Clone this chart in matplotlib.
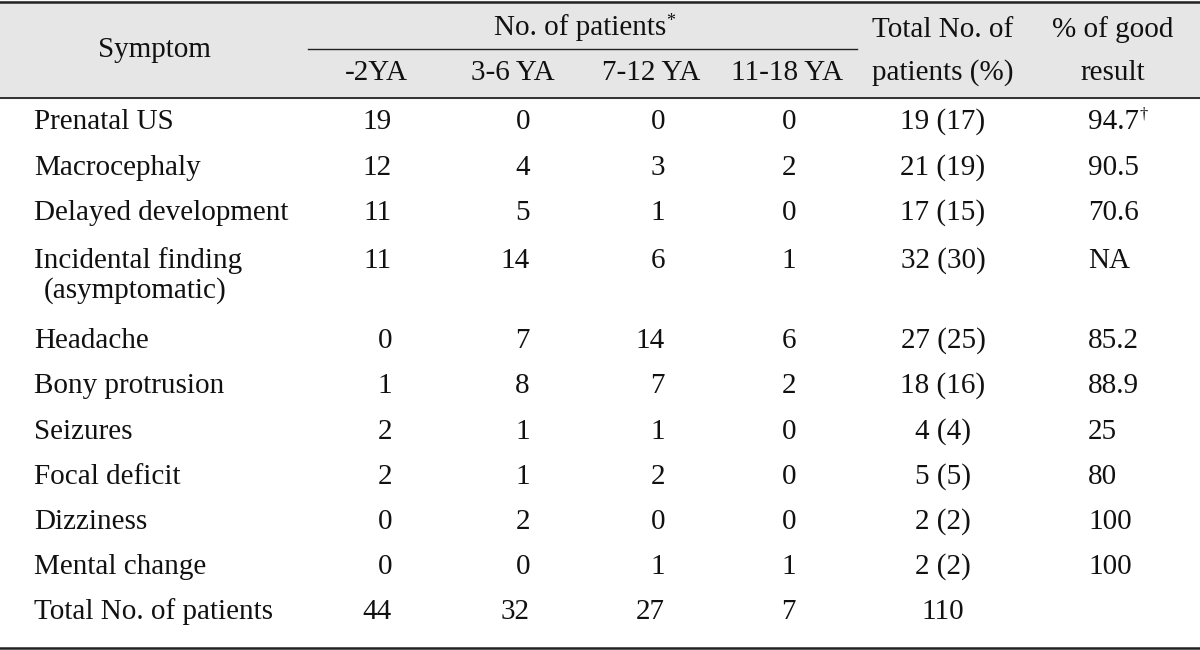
import matplotlib
matplotlib.use("Agg")
import matplotlib.pyplot as plt

plt.rcParams['font.family'] = ['Liberation Serif', 'DejaVu Serif']

symptoms = ["Prenatal US", "Macrocephaly", "Delayed development",
            "Incidental finding\n(asymptomatic)", "Headache", "Bony protrusion",
            "Seizures", "Focal deficit", "Dizziness", "Mental change",
            "Total No. of patients"]
age_groups = ["-2YA", "3-6 YA", "7-12 YA", "11-18 YA"]
ya_0_2 = [19, 12, 11, 11, 0, 1, 2, 2, 0, 0, 44]
ya_3_6 = [0, 4, 5, 14, 7, 8, 1, 1, 2, 0, 32]
ya_7_12 = [0, 3, 1, 6, 14, 7, 1, 2, 0, 1, 27]
ya_11_18 = [0, 2, 0, 1, 6, 2, 0, 0, 0, 1, 7]
total_n = [19, 21, 17, 32, 27, 18, 4, 5, 2, 2, 110]
total_pct = [17, 19, 15, 30, 25, 16, 4, 5, 2, 2, None]
good_result = ["94.7", "90.5", "70.6", "NA", "85.2", "88.9", "25", "80", "100", "100", ""]
good_marks = ["\u2020", "", "", "", "", "", "", "", "", "", ""]

W, H = 1200, 650
fig = plt.figure(figsize=(12, 6.5), dpi=100)
ax = fig.add_axes([0, 0, 1, 1])
ax.set_xlim(0, W)
ax.set_ylim(H, 0)
ax.axis('off')

FS = 21
col = '#111111'

# header background and rules
ax.add_patch(plt.Rectangle((0, 1), W, 97, color='#e6e6e6', zorder=0))
ax.plot([0, W], [1.5, 1.5], color='#222222', lw=1.8)
ax.plot([0, W], [98, 98], color='#222222', lw=1.3)
ax.plot([308, 857], [49, 49], color='#222222', lw=1.0)
ax.plot([0, W], [647.5, 647.5], color='#222222', lw=1.8)

# header text
ax.text(154, 50, "Symptom", fontsize=FS, ha='center', va='center', color=col)
t = ax.text(580, 28, "No. of patients", fontsize=FS, ha='center', va='center', color=col)
ax.annotate("*", xy=(1.0, 0.75), xycoords=t, fontsize=13, ha='left', va='center', color=col)
hx = [376, 513, 651, 787]
for x, lab in zip(hx, age_groups):
    ax.text(x, 73, lab, fontsize=FS, ha='center', va='center', color=col)
ax.text(943, 30, "Total No. of", fontsize=FS, ha='center', va='center', color=col)
ax.text(943, 73, "patients (%)", fontsize=FS, ha='center', va='center', color=col)
ax.text(1113, 30, "% of good", fontsize=FS, ha='center', va='center', color=col)
ax.text(1113, 73, "result", fontsize=FS, ha='center', va='center', color=col)

# body
row_y = [122, 168, 213, 261, 341, 386, 432, 477, 522, 567, 612]
right_x = [392, 530, 665, 796]
cols = [ya_0_2, ya_3_6, ya_7_12, ya_11_18]
for i, y in enumerate(row_y):
    name = symptoms[i]
    if "\n" in name:
        a, b = name.split("\n")
        ax.text(34, y, a, fontsize=FS, ha='left', va='center', color=col)
        ax.text(44, y + 30, b, fontsize=FS, ha='left', va='center', color=col)
    else:
        ax.text(34, y, name, fontsize=FS, ha='left', va='center', color=col)
    for rx, c in zip(right_x, cols):
        ax.text(rx, y, str(c[i]), fontsize=FS, ha='right', va='center', color=col)
    tot = str(total_n[i]) if total_pct[i] is None else f"{total_n[i]} ({total_pct[i]})"
    ax.text(943, y, tot, fontsize=FS, ha='center', va='center', color=col)
    if good_result[i]:
        g = ax.text(1088, y, good_result[i], fontsize=FS, ha='left', va='center', color=col)
        if good_marks[i]:
            ax.annotate(good_marks[i], xy=(1.0, 0.8), xycoords=g, fontsize=12,
                        ha='left', va='center', color=col)

fig.savefig("out.png", dpi=100)
